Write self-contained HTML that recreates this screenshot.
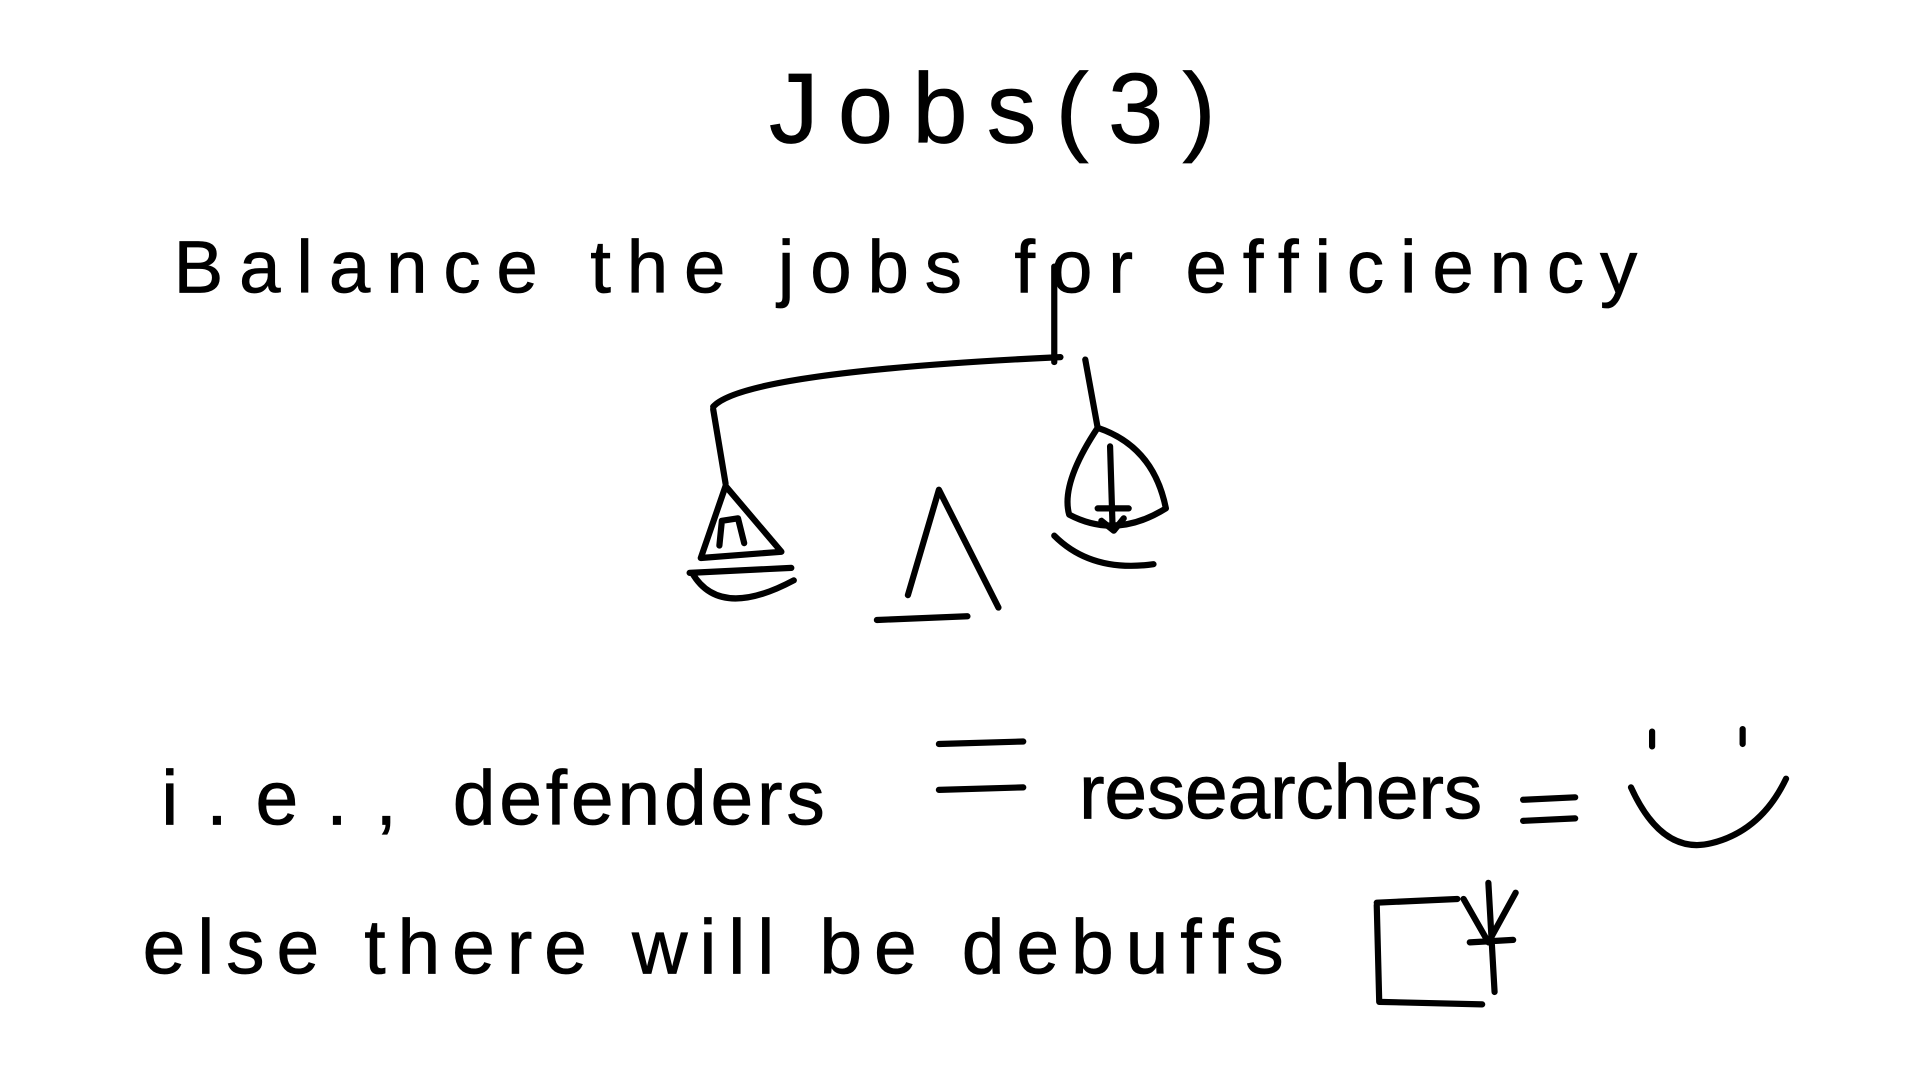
<!DOCTYPE html>
<html><head><meta charset="utf-8"><style>
html,body{margin:0;padding:0;background:#fff;width:1920px;height:1080px;overflow:hidden}
svg{display:block}
text{font-family:"Liberation Sans",sans-serif;fill:#000;stroke:#000;stroke-width:0.6}
</style></head><body>
<svg width="1920" height="1080" viewBox="0 0 1548 871" preserveAspectRatio="none">
<rect width="1548" height="871" fill="#fff"/>
<text x="620" y="115" font-size="80" textLength="360" lengthAdjust="spacing">Jobs(3)</text>
<text x="140" y="236" font-size="60" textLength="1180" lengthAdjust="spacing">Balance the jobs for efficiency</text>
<g fill="none" stroke="#000" stroke-width="5" stroke-linecap="round" stroke-linejoin="round">
<path d="M575 328 Q600 300 855 288"/>
<path d="M850 215 L850 292"/>
<path d="M575 330 L585 390"/>
<path d="M875 290 L885 345"/>
<path d="M585 392 L565 450 L630 445 Z"/>
<path d="M558 462 Q580 500 640 468 M556 462 L638 458"/>
<path d="M580 440 L582 420 L595 418 L600 438"/>
<path d="M885 345 Q855 390 862 415 Q900 435 940 410 Q930 360 885 345 Z"/>
<path d="M850 432 Q880 462 930 455"/>
<path d="M895 360 L897 425 M885 410 L910 410 M888 420 L898 428 L906 418"/>
<path d="M732 480 L757 395 L805 490"/>
<path d="M707 500 L780 497"/>
<path d="M757 600 L825 598 M757 637 L825 635"/>
<path d="M1228 645 L1270 643 M1228 662 L1270 660"/>
<path d="M1332 590 L1332 602 M1405 588 L1405 600"/>
<path d="M1315 635 Q1340 690 1380 680 Q1420 670 1440 628"/>
<path d="M1110 730 L1112 808 L1195 810 M1110 728 L1175 725"/>
<path d="M1200 712 L1205 800 M1180 725 L1200 760 L1222 720 M1185 760 L1220 758"/>
</g>
<text x="130" y="665" font-size="62" textLength="190" lengthAdjust="spacing">i.e.,</text>
<text x="365" y="665" font-size="62" textLength="300" lengthAdjust="spacing">defenders</text>
<text x="870" y="660" font-size="62" textLength="325" lengthAdjust="spacing">researchers</text>
<text x="115" y="785" font-size="62" textLength="920" lengthAdjust="spacing">else there will be debuffs</text>
</svg>
</body></html>
